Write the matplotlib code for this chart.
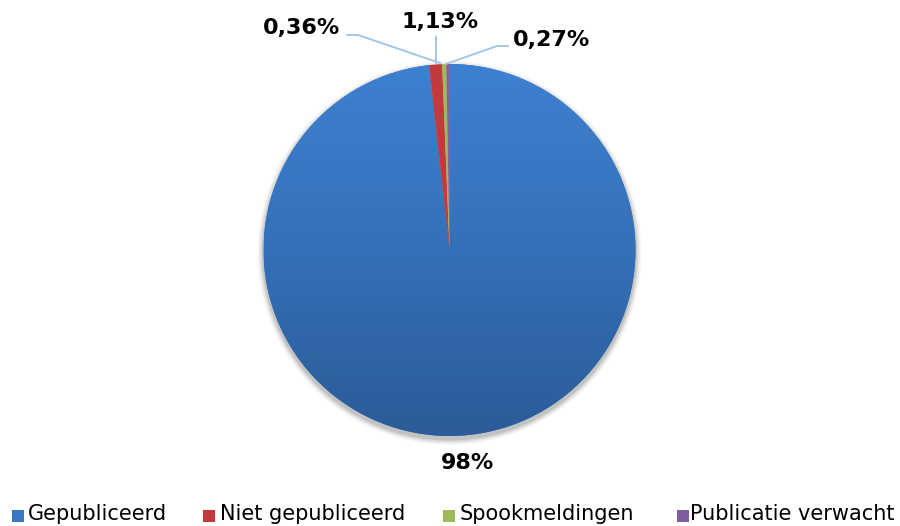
import numpy as np
import matplotlib.pyplot as plt
from matplotlib.patches import Circle
from matplotlib.colors import LinearSegmentedColormap

# Slice data
labels = ['Gepubliceerd', 'Niet gepubliceerd', 'Spookmeldingen', 'Publicatie verwacht']
values = [98.24, 1.13, 0.36, 0.27]
value_labels = ['98%', '1,13%', '0,36%', '0,27%']
colors = ['#3a78c6', '#c4393b', '#9bbb59', '#7d5fa0']

fig = plt.figure(figsize=(9, 5.26), dpi=100)
ax = fig.add_axes([0, 0, 1, 1])

cx, cy, r = 449.5, 276, 186

# soft shadow under the pie
for k, a in zip([6, 4.5, 3, 1.5], [0.03, 0.05, 0.07, 0.10]):
    ax.add_patch(Circle((cx, cy - 3), r + k, facecolor='black', alpha=a, lw=0, zorder=0))

wedges, _ = ax.pie(values, colors=colors, startangle=90, counterclock=False,
                   center=(cx, cy), radius=r, wedgeprops=dict(linewidth=0))

# vertical gradient on the big blue slice
blue_cmap = LinearSegmentedColormap.from_list('blue', ['#2c5b98', '#3470b7', '#3e81d1'])
grad = np.linspace(0, 1, 256).reshape(-1, 1)
im = ax.imshow(grad, extent=(cx - r, cx + r, cy - r, cy + r), origin='lower',
               cmap=blue_cmap, aspect='auto', zorder=wedges[0].get_zorder() + 0.1)
im.set_clip_path(wedges[0])
for w in wedges[1:]:
    w.set_zorder(wedges[0].get_zorder() + 0.2)

ax.set_xlim(0, 900)
ax.set_ylim(0, 526)
ax.axis('off')

# data labels (positions in pixel space, y measured from top)
H = 526
lbl_pos = {'98%': (467, 463), '1,13%': (440, 22), '0,36%': (302, 28), '0,27%': (552, 40)}
for t in value_labels:
    x, y = lbl_pos[t]
    ax.text(x, H - y, t, ha='center', va='center', fontsize=16, fontweight='bold', color='black')

# leader lines
lc = '#9dc3e6'
ax.plot([347, 358, 440], [H - 35, H - 35, H - 63], color=lc, lw=1.3, zorder=5)
ax.plot([436, 436], [H - 37, H - 63], color=lc, lw=1.3, zorder=5)
ax.plot([508, 497, 446], [H - 46, H - 46, H - 64], color=lc, lw=1.3, zorder=5)

# legend along the bottom edge
sq_x = [18, 209, 449, 683]
txt_x = [28, 220, 460, 690]
for lab, col, sx, tx in zip(labels, colors, sq_x, txt_x):
    ax.scatter([sx], [H - 516], marker='s', s=75, color=col, lw=0, zorder=6)
    ax.text(tx, H - 520, lab, ha='left', va='baseline', fontsize=15, color='black')

fig.savefig('out.png', dpi=100)
